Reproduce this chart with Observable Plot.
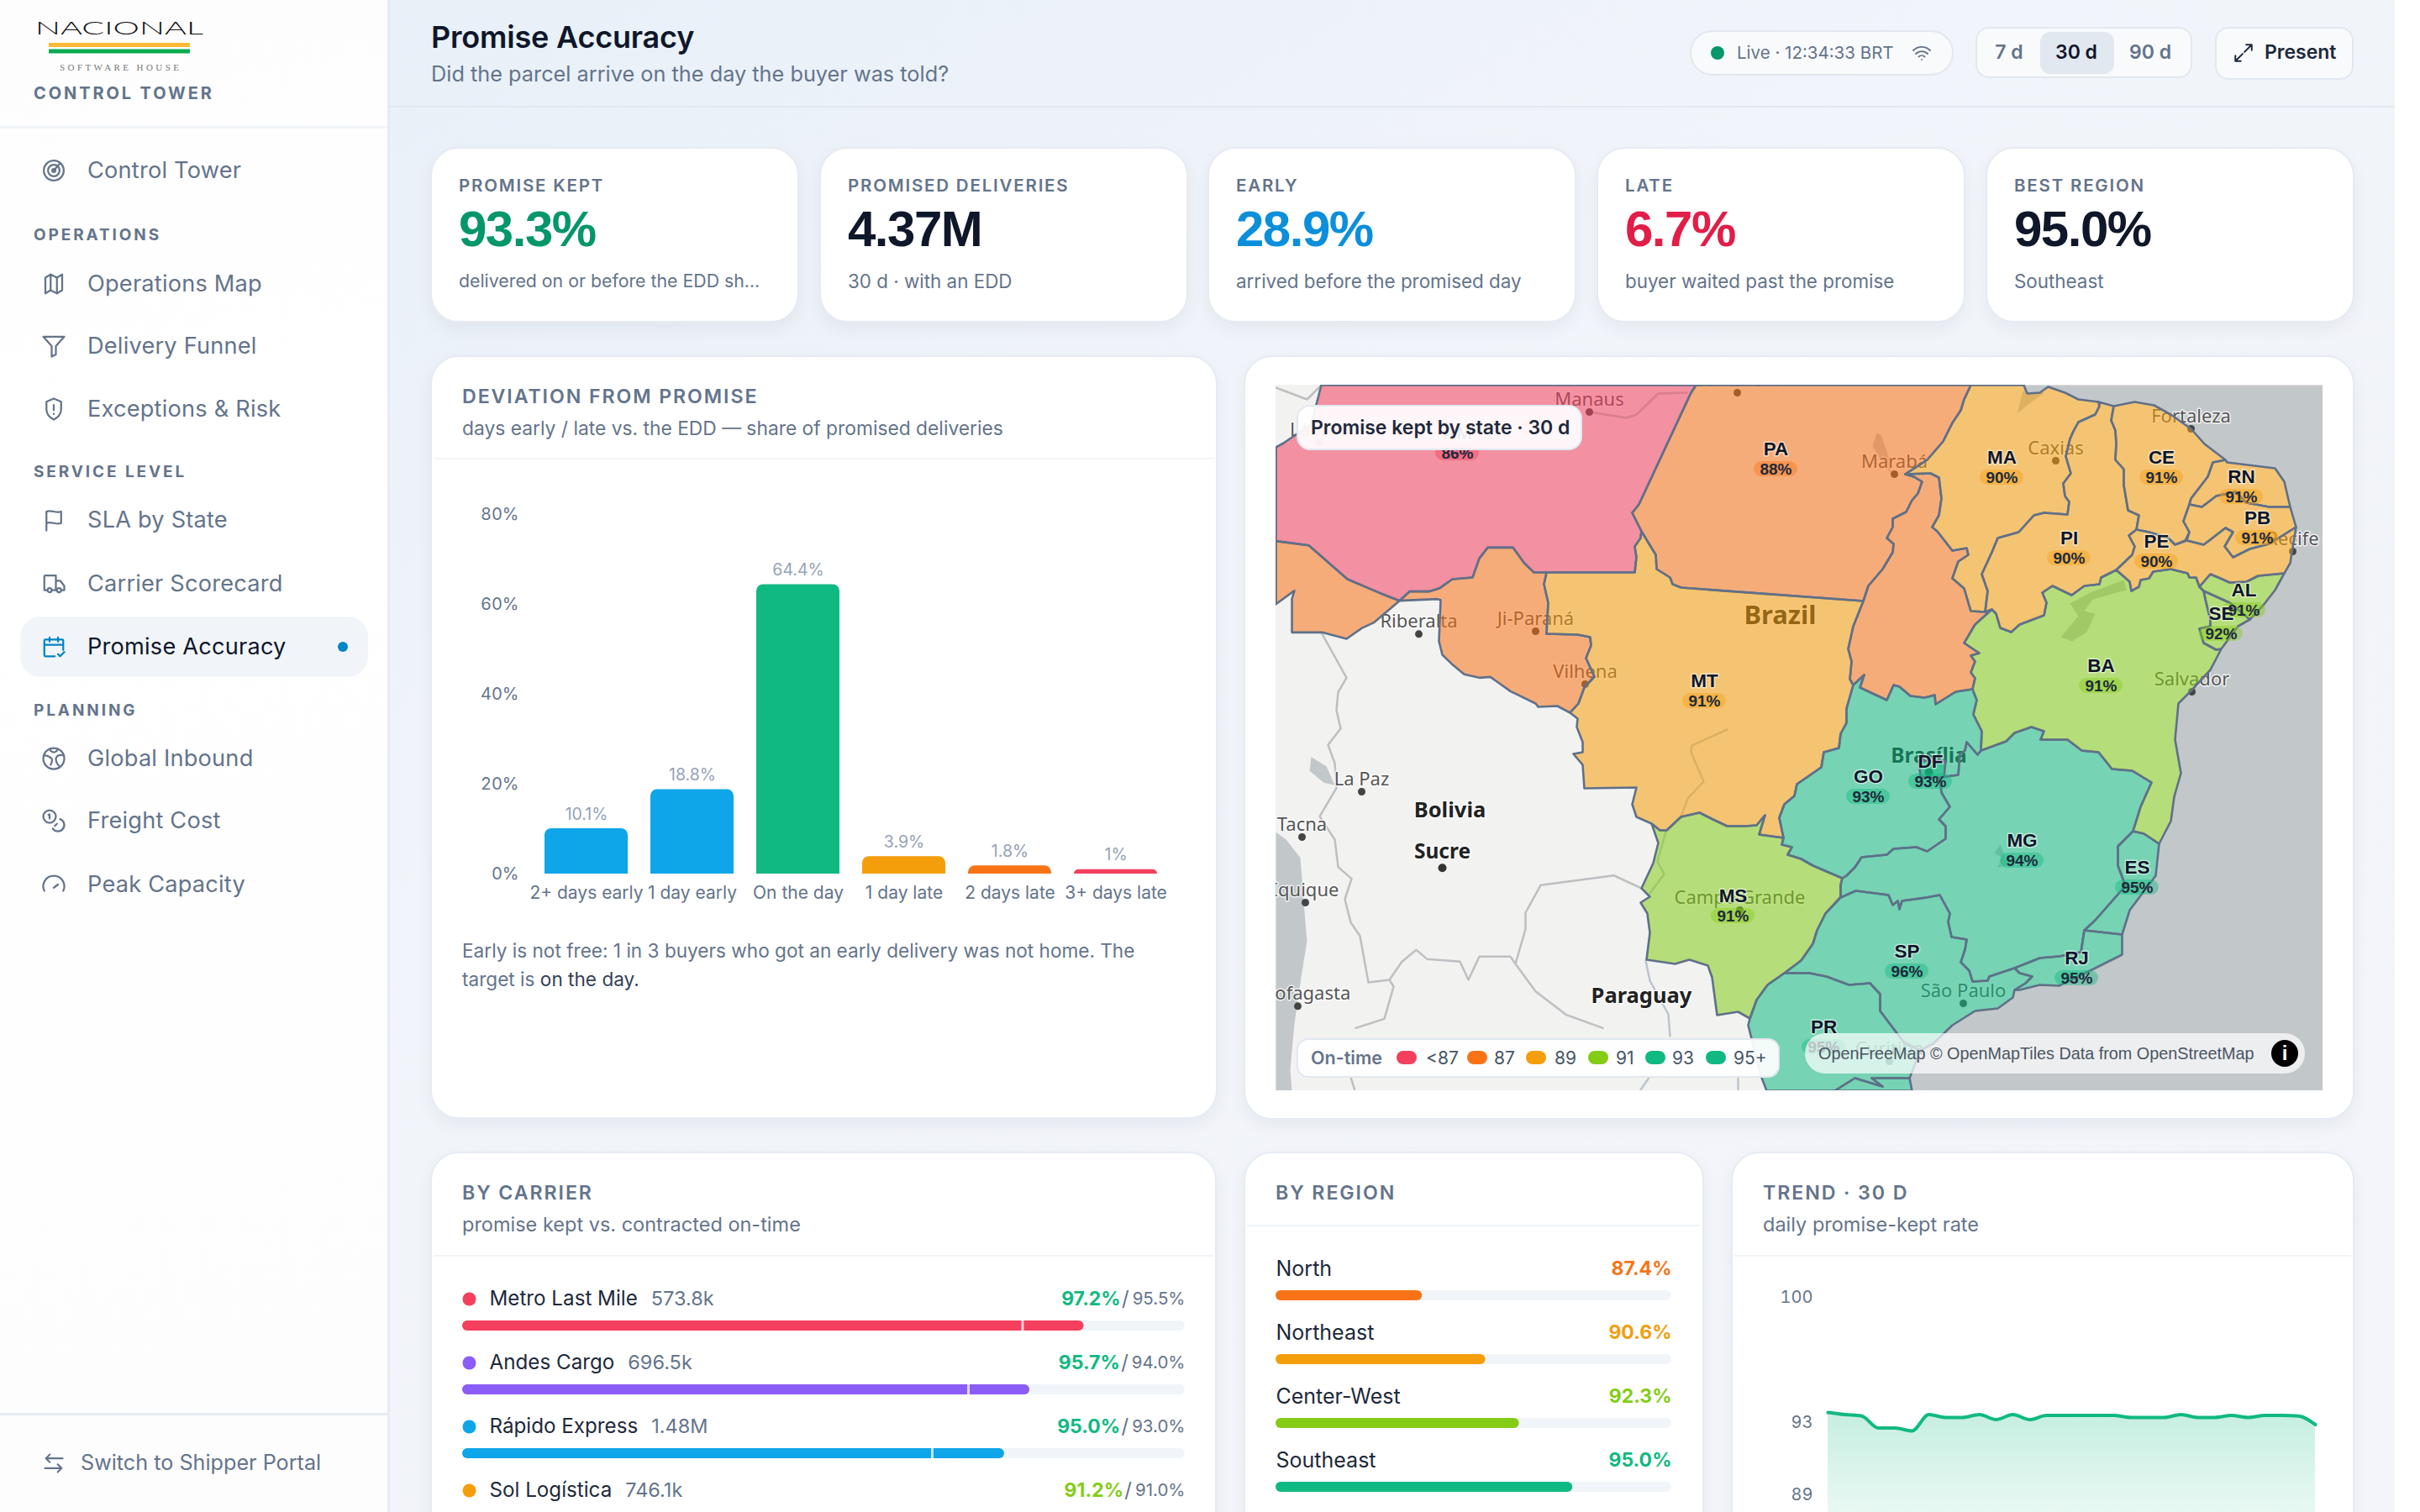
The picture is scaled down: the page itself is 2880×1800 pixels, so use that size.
<!DOCTYPE html>
<html lang="en"><head><meta charset="utf-8"><title>Promise Accuracy</title>
<script src="https://cdn.jsdelivr.net/npm/d3@7"></script>
<script src="https://cdn.jsdelivr.net/npm/@observablehq/plot@0.6"></script>
<style>
*{box-sizing:border-box}
html,body{margin:0;width:2880px;height:1800px;overflow:hidden;background:#fff;font-family:Inter,"Noto Sans",sans-serif;color:#64748b}
.a{position:absolute;white-space:nowrap}
.c{transform:translateY(-50%)}
#main{position:absolute;left:464px;top:0;width:2386px;height:1800px;background:linear-gradient(150deg,#e8f0f8 0,#f1f4fa 35%,#f3f5fb 100%)}
#side{position:absolute;left:0;top:0;width:464px;height:1800px;background:linear-gradient(170deg,#fdfdfe,#fff 30%,#fdfdfe);border-right:3px solid #e6ebf3}
.card{position:absolute;background:#fff;border:2px solid #e6ebf3;border-radius:34px;box-shadow:0 8px 20px rgba(15,23,42,.05)}
.ttl{font-weight:600;font-size:23.2px;letter-spacing:1.9px}
.sub{font-size:23.5px}
.nav{font-size:27.2px;font-weight:400;letter-spacing:.2px}
.sec{font-size:19px;font-weight:700;letter-spacing:2.9px}
svg.ic{position:absolute;fill:none;stroke:#64748b;stroke-width:1.8;stroke-linecap:round;stroke-linejoin:round}
.plot svg{display:block;max-width:none}
</style></head><body>
<div id="side"></div><div id="main"></div><div id="ui"></div>
<script>
// ---------- chart data ----------
const deviationBuckets=["2+ days early","1 day early","On the day","1 day late","2 days late","3+ days late"];
const deviationShare=[10.1,18.8,64.4,3.9,1.8,1];
const deviationColors=["#0ea5e9","#0ea5e9","#10b981","#f59e0b","#f97316","#f43f5e"];
const percentTicks=[0,20,40,60,80];

const carrierNames=["Metro Last Mile","Andes Cargo","Rápido Express","Sol Logística"];
const carrierVolume=["573.8k","696.5k","1.48M","746.1k"];
const carrierKept=[97.2,95.7,95.0,91.2];
const carrierContract=[95.5,94.0,93.0,91.0];
const carrierColors=["#f43f5e","#8b5cf6","#0ea5e9","#f59e0b"];
const carrierRateColors=["#10b981","#10b981","#10b981","#84cc16"];

const regionNames=["North","Northeast","Center-West","Southeast"];
const regionKept=[87.4,90.6,92.3,95.0];
const regionColors=["#f97316","#f59e0b","#84cc16","#10b981"];

const trendDays=[1,2,3,4,5,6,7,8,9,10,11,12,13,14,15,16,17,18,19,20,21,22,23,24,25,26,27,28,29,30];
const trendKept=[93.58,93.46,93.38,92.71,92.71,92.55,93.46,93.30,93.30,93.46,93.18,93.46,93.18,93.41,93.41,93.41,93.41,93.41,93.30,93.30,93.30,93.46,93.30,93.30,93.41,93.30,93.41,93.41,93.38,92.90];
const trendTicks=[89,93,100];

const bandNames=["<87","87","89","91","93","95+"];
const bandColors=["#f43f5e","#f97316","#f59e0b","#84cc16","#10b981","#10b981"];

// ---------- map data: [longitude, Mercator latitude] ----------
const ringAM=[[-69.60,-2.16],[-69.96,-3.55],[-70.95,-4.23],[-71.22,-4.38],[-71.22,-7.73],[-70.05,-7.88],[-68.67,-9.09],[-67.50,-9.59],[-66.81,-9.86],[-66.45,-9.53],[-65.76,-9.53],[-65.37,-9.41],[-64.92,-9.09],[-64.20,-9.03],[-63.96,-8.35],[-63.66,-7.96],[-62.76,-7.96],[-62.37,-8.50],[-62.01,-8.85],[-61.56,-8.85],[-58.41,-8.85],[-58.35,-8.31],[-58.41,-7.92],[-58.20,-7.62],[-58.17,-7.38],[-58.50,-6.72],[-58.26,-6.42],[-56.40,-2.43],[-56.22,-2.16]];
const ringAC=[[-71.22,-7.73],[-70.05,-7.88],[-68.67,-9.09],[-67.50,-9.59],[-66.81,-9.86],[-67.71,-10.63],[-68.16,-10.84],[-68.70,-11.22],[-69.57,-10.99],[-70.65,-10.99],[-70.65,-9.80],[-70.56,-9.50],[-71.22,-9.98]];
const ringRO=[[-61.56,-8.85],[-62.01,-8.85],[-62.37,-8.50],[-62.76,-7.96],[-63.66,-7.96],[-63.96,-8.35],[-64.20,-9.03],[-64.92,-9.09],[-65.37,-9.41],[-65.76,-9.53],[-66.45,-9.53],[-66.81,-9.86],[-65.46,-9.80],[-65.34,-9.83],[-65.40,-11.31],[-65.28,-11.79],[-64.95,-12.11],[-64.50,-12.49],[-63.96,-12.61],[-63.57,-12.58],[-62.85,-13.09],[-61.95,-13.53],[-61.86,-13.65],[-61.17,-13.62],[-60.72,-13.86],[-60.42,-13.53],[-60.21,-12.96],[-59.85,-12.57],[-60.15,-11.91],[-59.97,-11.46],[-60.00,-11.16],[-60.45,-11.07],[-61.56,-11.04],[-61.50,-9.93],[-61.65,-9.27]];
const ringPA=[[-56.22,-2.16],[-46.41,-2.16],[-46.65,-2.67],[-46.77,-3.06],[-47.07,-3.51],[-47.40,-4.17],[-47.97,-4.83],[-48.75,-5.34],[-48.45,-5.43],[-48.15,-5.61],[-48.30,-6.03],[-48.51,-6.27],[-48.72,-6.69],[-49.20,-6.93],[-49.20,-7.23],[-49.41,-7.62],[-49.17,-7.83],[-49.20,-8.13],[-49.56,-8.73],[-50.07,-9.33],[-50.25,-9.87],[-56.76,-9.39],[-57.06,-9.27],[-57.15,-9.03],[-57.63,-8.73],[-57.66,-8.22],[-57.90,-7.83],[-58.17,-7.38],[-58.50,-6.72],[-58.26,-6.42],[-56.40,-2.43]];
const ringTO=[[-48.75,-5.34],[-47.85,-5.31],[-47.55,-5.46],[-47.46,-6.21],[-47.55,-6.81],[-47.79,-7.23],[-47.61,-7.38],[-47.07,-8.07],[-46.56,-7.98],[-46.50,-8.22],[-46.86,-8.46],[-47.07,-9.06],[-46.65,-9.42],[-46.50,-9.93],[-46.41,-10.23],[-45.90,-10.26],[-45.66,-10.17],[-46.26,-10.71],[-46.65,-11.37],[-46.11,-11.73],[-46.41,-11.82],[-46.26,-12.03],[-46.41,-12.42],[-46.26,-12.63],[-46.35,-13.02],[-46.95,-13.11],[-47.67,-13.56],[-47.70,-13.23],[-48.06,-13.32],[-48.57,-13.26],[-48.96,-12.93],[-49.17,-12.87],[-49.41,-13.41],[-50.37,-12.96],[-50.22,-12.51],[-50.61,-12.87],[-50.73,-12.66],[-50.67,-12.03],[-50.79,-11.58],[-50.61,-10.77],[-50.25,-9.87],[-50.07,-9.33],[-49.56,-8.73],[-49.20,-8.13],[-49.17,-7.83],[-49.41,-7.62],[-49.20,-7.23],[-49.20,-6.93],[-48.72,-6.69],[-48.51,-6.27],[-48.30,-6.03],[-48.15,-5.61],[-48.45,-5.43]];
const ringMT=[[-61.56,-8.85],[-58.41,-8.85],[-58.35,-8.31],[-58.41,-7.92],[-58.20,-7.62],[-58.17,-7.38],[-57.90,-7.83],[-57.66,-8.22],[-57.63,-8.73],[-57.15,-9.03],[-57.06,-9.27],[-56.76,-9.39],[-50.25,-9.87],[-50.61,-10.77],[-50.79,-11.58],[-50.67,-12.03],[-50.73,-12.66],[-50.61,-12.87],[-50.85,-13.71],[-50.85,-14.22],[-51.06,-14.61],[-51.12,-15.12],[-51.66,-15.27],[-51.75,-15.81],[-52.62,-16.41],[-52.71,-16.83],[-53.07,-17.13],[-53.25,-17.61],[-53.10,-18.33],[-53.97,-18.21],[-53.76,-17.52],[-54.06,-17.88],[-54.45,-17.91],[-55.11,-17.91],[-55.62,-17.67],[-56.10,-17.43],[-56.76,-17.58],[-57.27,-18.06],[-57.51,-18.06],[-57.81,-17.82],[-58.35,-17.58],[-58.50,-17.13],[-58.35,-16.53],[-60.21,-16.56],[-60.27,-15.72],[-60.60,-15.33],[-60.27,-15.27],[-60.27,-14.91],[-60.48,-14.37],[-60.45,-14.07],[-60.72,-13.86],[-60.42,-13.53],[-60.21,-12.96],[-59.85,-12.57],[-60.15,-11.91],[-59.97,-11.46],[-60.00,-11.16],[-60.45,-11.07],[-61.56,-11.04],[-61.50,-9.93],[-61.65,-9.27]];
const ringMS=[[-57.81,-17.82],[-57.57,-18.51],[-57.75,-19.23],[-58.17,-20.13],[-57.87,-20.43],[-58.20,-20.64],[-57.96,-21.03],[-57.87,-21.72],[-57.99,-22.68],[-56.97,-22.83],[-56.46,-22.68],[-55.80,-22.89],[-55.65,-23.31],[-55.47,-24.66],[-54.72,-24.54],[-54.30,-24.78],[-54.06,-24.12],[-53.67,-23.58],[-53.07,-23.16],[-52.47,-22.71],[-52.05,-22.11],[-51.90,-21.63],[-51.60,-21.03],[-51.06,-20.43],[-51.06,-20.01],[-51.00,-19.77],[-52.05,-19.32],[-52.47,-19.08],[-52.95,-18.93],[-52.80,-18.66],[-53.16,-18.57],[-53.10,-18.33],[-53.97,-18.21],[-53.76,-17.52],[-54.06,-17.88],[-54.45,-17.91],[-55.11,-17.91],[-55.62,-17.67],[-56.10,-17.43],[-56.76,-17.58],[-57.27,-18.06],[-57.51,-18.06]];
const ringGO=[[-50.22,-12.51],[-50.37,-12.96],[-49.41,-13.41],[-49.17,-12.87],[-48.96,-12.93],[-48.57,-13.26],[-48.06,-13.32],[-47.70,-13.23],[-47.67,-13.56],[-46.95,-13.11],[-46.35,-13.02],[-46.20,-13.41],[-46.32,-13.92],[-46.02,-14.52],[-46.05,-15.21],[-46.17,-15.36],[-46.56,-14.91],[-46.62,-15.21],[-46.80,-15.33],[-46.86,-16.08],[-47.52,-16.17],[-47.46,-16.71],[-47.16,-17.22],[-47.55,-17.67],[-47.31,-17.91],[-47.31,-18.36],[-47.97,-18.81],[-48.36,-18.66],[-49.17,-18.72],[-49.41,-18.93],[-50.31,-19.02],[-50.55,-19.38],[-50.85,-19.68],[-51.00,-19.77],[-52.05,-19.32],[-52.47,-19.08],[-52.95,-18.93],[-52.80,-18.66],[-53.16,-18.57],[-53.10,-18.33],[-53.25,-17.61],[-53.07,-17.13],[-52.71,-16.83],[-52.62,-16.41],[-51.75,-15.81],[-51.66,-15.27],[-51.12,-15.12],[-51.06,-14.61],[-50.85,-14.22],[-50.85,-13.71],[-50.61,-12.87]];
const ringDF=[[-48.27,-15.57],[-47.31,-15.57],[-47.37,-16.17],[-48.21,-16.17]];
const ringMG=[[-51.00,-19.77],[-50.85,-19.68],[-50.55,-19.38],[-50.31,-19.02],[-49.41,-18.93],[-49.17,-18.72],[-48.36,-18.66],[-47.97,-18.81],[-47.31,-18.36],[-47.31,-17.91],[-47.55,-17.67],[-47.16,-17.22],[-47.46,-16.71],[-47.52,-16.17],[-46.86,-16.08],[-46.80,-15.33],[-46.62,-15.21],[-46.56,-14.91],[-46.17,-15.36],[-46.05,-15.21],[-45.15,-14.88],[-44.85,-14.58],[-44.25,-14.37],[-43.80,-14.52],[-43.92,-14.82],[-42.96,-14.82],[-42.45,-15.21],[-41.85,-15.27],[-41.37,-15.87],[-40.65,-15.93],[-39.96,-16.35],[-40.35,-17.22],[-40.62,-18.09],[-41.16,-18.63],[-41.16,-19.32],[-40.89,-20.04],[-41.97,-21.27],[-42.36,-21.63],[-42.48,-22.41],[-43.26,-22.56],[-43.95,-22.62],[-44.85,-22.98],[-45.75,-23.28],[-45.81,-23.43],[-46.35,-23.46],[-46.47,-23.07],[-46.77,-22.77],[-46.62,-22.32],[-46.56,-21.96],[-47.10,-21.87],[-47.22,-21.33],[-47.16,-21.03],[-47.52,-20.37],[-48.00,-20.46],[-48.87,-20.58],[-48.96,-20.88],[-49.02,-20.58],[-49.20,-20.73],[-49.35,-20.37],[-50.52,-20.22],[-51.06,-20.46],[-51.06,-20.01]];
const ringES=[[-40.62,-18.09],[-40.23,-18.18],[-39.69,-18.54],[-39.81,-19.68],[-40.74,-20.91],[-41.01,-21.78],[-42.36,-21.63],[-41.97,-21.27],[-40.89,-20.04],[-41.16,-19.32],[-41.16,-18.63]];
const ringRJ=[[-42.36,-21.63],[-41.01,-21.78],[-41.01,-22.50],[-42.09,-23.04],[-43.26,-23.61],[-43.95,-23.58],[-44.67,-23.76],[-44.85,-23.76],[-44.46,-23.52],[-44.22,-23.28],[-44.67,-23.16],[-44.85,-22.98],[-43.95,-22.62],[-43.26,-22.56],[-42.48,-22.41]];
const ringSP=[[-51.06,-20.46],[-50.52,-20.22],[-49.35,-20.37],[-49.20,-20.73],[-49.02,-20.58],[-48.96,-20.88],[-48.87,-20.58],[-48.00,-20.46],[-47.52,-20.37],[-47.16,-21.03],[-47.22,-21.33],[-47.10,-21.87],[-46.56,-21.96],[-46.62,-22.32],[-46.77,-22.77],[-46.47,-23.07],[-46.35,-23.46],[-45.81,-23.43],[-45.75,-23.28],[-44.85,-22.98],[-44.67,-23.16],[-44.22,-23.28],[-44.46,-23.52],[-44.85,-23.76],[-44.91,-24.03],[-45.45,-24.42],[-46.26,-24.51],[-47.07,-25.02],[-47.76,-25.68],[-48.21,-25.92],[-48.81,-25.62],[-49.20,-25.11],[-49.65,-24.51],[-49.65,-23.91],[-50.01,-23.52],[-50.76,-23.58],[-51.57,-23.28],[-52.17,-23.16],[-53.07,-23.16],[-52.47,-22.71],[-52.05,-22.11],[-51.90,-21.63],[-51.60,-21.03]];
const ringPR=[[-54.30,-24.78],[-54.06,-24.12],[-53.67,-23.58],[-53.07,-23.16],[-52.17,-23.16],[-51.57,-23.28],[-50.76,-23.58],[-50.01,-23.52],[-49.65,-23.91],[-49.65,-24.51],[-49.20,-25.11],[-48.81,-25.62],[-48.21,-25.92],[-48.60,-26.91],[-49.95,-26.91],[-49.56,-27.21],[-50.55,-26.91],[-51.27,-27.36],[-53.70,-27.36],[-53.91,-26.82],[-54.36,-25.02]];
const ringSC=[[-51.27,-27.36],[-50.55,-26.91],[-49.56,-27.21],[-49.95,-26.91],[-48.60,-26.91],[-48.51,-27.36]];
const ringBA=[[-46.05,-15.21],[-45.15,-14.88],[-44.85,-14.58],[-44.25,-14.37],[-43.80,-14.52],[-43.92,-14.82],[-42.96,-14.82],[-42.45,-15.21],[-41.85,-15.27],[-41.37,-15.87],[-40.65,-15.93],[-39.96,-16.35],[-40.35,-17.22],[-40.62,-18.09],[-40.23,-18.18],[-39.69,-18.54],[-39.27,-17.73],[-39.15,-16.86],[-38.91,-16.02],[-39.12,-14.82],[-39.00,-13.53],[-38.55,-13.08],[-37.86,-12.33],[-37.47,-11.58],[-37.65,-11.61],[-38.10,-11.37],[-38.25,-10.86],[-37.86,-10.77],[-37.86,-10.53],[-38.01,-9.93],[-38.10,-9.51],[-38.25,-9.36],[-38.37,-9.03],[-38.61,-9.03],[-38.67,-8.88],[-39.27,-8.73],[-39.90,-8.82],[-40.05,-9.06],[-40.35,-9.12],[-40.41,-9.36],[-40.68,-9.51],[-40.74,-9.18],[-41.22,-8.76],[-41.76,-9.03],[-41.82,-9.27],[-42.36,-9.33],[-42.81,-9.66],[-43.50,-9.33],[-43.86,-9.57],[-43.71,-9.93],[-43.80,-10.38],[-44.67,-10.71],[-44.97,-10.98],[-45.36,-10.83],[-45.51,-10.32],[-45.66,-10.17],[-46.26,-10.71],[-46.65,-11.37],[-46.11,-11.73],[-46.41,-11.82],[-46.26,-12.03],[-46.41,-12.42],[-46.26,-12.63],[-46.35,-13.02],[-46.20,-13.41],[-46.32,-13.92],[-46.02,-14.52]];
const ringSE=[[-38.10,-9.51],[-37.17,-9.93],[-36.45,-10.53],[-36.87,-10.77],[-37.47,-11.58],[-37.65,-11.61],[-38.10,-11.37],[-38.25,-10.86],[-37.86,-10.77],[-37.86,-10.53],[-38.01,-9.93]];
const ringAL=[[-38.25,-9.36],[-37.86,-8.91],[-37.50,-9.06],[-37.17,-9.21],[-36.57,-9.18],[-36.15,-8.97],[-35.22,-8.88],[-35.55,-9.48],[-35.97,-10.02],[-36.45,-10.53],[-37.17,-9.93],[-38.10,-9.51]];
const ringMA=[[-46.41,-2.16],[-44.52,-2.16],[-44.40,-2.46],[-43.95,-2.43],[-43.65,-2.22],[-43.05,-2.43],[-42.57,-2.67],[-41.85,-2.76],[-41.82,-2.91],[-41.97,-3.21],[-42.57,-3.48],[-42.75,-3.81],[-42.87,-4.08],[-43.02,-4.71],[-42.84,-5.31],[-43.11,-5.67],[-43.05,-6.12],[-42.90,-6.33],[-42.96,-6.78],[-43.80,-6.72],[-44.16,-6.81],[-44.70,-7.41],[-45.45,-7.62],[-45.66,-8.13],[-46.02,-8.91],[-45.81,-9.51],[-45.90,-10.26],[-46.41,-10.23],[-46.50,-9.93],[-46.65,-9.42],[-47.07,-9.06],[-46.86,-8.46],[-46.50,-8.22],[-46.56,-7.98],[-47.07,-8.07],[-47.61,-7.38],[-47.79,-7.23],[-47.55,-6.81],[-47.46,-6.21],[-47.55,-5.46],[-47.85,-5.31],[-48.75,-5.34],[-47.97,-4.83],[-47.40,-4.17],[-47.07,-3.51],[-46.77,-3.06],[-46.65,-2.67]];
const ringPI=[[-41.85,-2.76],[-41.31,-2.91],[-41.40,-3.42],[-41.25,-3.78],[-41.22,-4.23],[-41.25,-4.83],[-40.95,-5.16],[-40.95,-5.73],[-40.80,-6.63],[-40.41,-6.81],[-40.50,-7.32],[-40.77,-7.53],[-40.56,-7.92],[-40.65,-8.22],[-41.22,-8.76],[-41.76,-9.03],[-41.82,-9.27],[-42.36,-9.33],[-42.81,-9.66],[-43.50,-9.33],[-43.86,-9.57],[-43.71,-9.93],[-43.80,-10.38],[-44.67,-10.71],[-44.97,-10.98],[-45.36,-10.83],[-45.51,-10.32],[-45.66,-10.17],[-45.90,-10.26],[-45.81,-9.51],[-46.02,-8.91],[-45.66,-8.13],[-45.45,-7.62],[-44.70,-7.41],[-44.16,-6.81],[-43.80,-6.72],[-42.96,-6.78],[-42.90,-6.33],[-43.05,-6.12],[-43.11,-5.67],[-42.84,-5.31],[-43.02,-4.71],[-42.87,-4.08],[-42.75,-3.81],[-42.57,-3.48],[-41.97,-3.21],[-41.82,-2.91]];
const ringCE=[[-41.31,-2.91],[-40.56,-2.76],[-39.87,-2.88],[-39.27,-3.21],[-38.55,-3.72],[-38.07,-4.26],[-37.32,-4.83],[-37.77,-4.92],[-37.95,-5.43],[-38.55,-6.21],[-38.61,-6.42],[-38.82,-7.02],[-38.61,-7.41],[-38.76,-7.71],[-39.12,-7.86],[-39.36,-7.62],[-40.05,-7.41],[-40.50,-7.32],[-40.41,-6.81],[-40.80,-6.63],[-40.95,-5.73],[-40.95,-5.16],[-41.25,-4.83],[-41.22,-4.23],[-41.25,-3.78],[-41.40,-3.42]];
const ringRN=[[-37.32,-4.83],[-37.26,-4.92],[-35.55,-5.13],[-35.22,-5.61],[-35.01,-6.51],[-35.76,-6.51],[-36.57,-6.36],[-36.96,-5.97],[-37.65,-6.12],[-38.16,-6.51],[-38.61,-6.42],[-38.55,-6.21],[-37.95,-5.43],[-37.77,-4.92]];
const ringPB=[[-38.61,-6.42],[-38.16,-6.51],[-37.65,-6.12],[-36.96,-5.97],[-36.57,-6.36],[-35.76,-6.51],[-35.01,-6.51],[-34.80,-7.23],[-35.76,-7.83],[-36.45,-8.01],[-37.05,-8.31],[-37.35,-7.92],[-37.05,-7.41],[-37.32,-7.26],[-37.86,-7.68],[-38.10,-7.86],[-38.70,-7.71],[-38.61,-7.41],[-38.82,-7.02]];
const ringPE=[[-40.50,-7.32],[-40.05,-7.41],[-39.36,-7.62],[-39.12,-7.86],[-38.70,-7.71],[-38.10,-7.86],[-37.86,-7.68],[-37.32,-7.26],[-37.05,-7.41],[-37.35,-7.92],[-37.05,-8.31],[-36.45,-8.01],[-35.76,-7.83],[-34.80,-7.23],[-35.01,-8.52],[-35.22,-8.88],[-36.15,-8.97],[-36.57,-9.18],[-37.17,-9.21],[-37.50,-9.06],[-37.86,-8.91],[-38.25,-9.36],[-38.37,-9.03],[-38.61,-9.03],[-38.67,-8.88],[-39.27,-8.73],[-39.90,-8.82],[-40.05,-9.06],[-40.35,-9.12],[-40.41,-9.36],[-40.68,-9.51],[-40.74,-9.18],[-41.22,-8.76],[-40.65,-8.22],[-40.56,-7.92],[-40.77,-7.53]];

const eastOcean=[[-44.52,-2.16],[-44.40,-2.46],[-43.95,-2.43],[-43.65,-2.22],[-43.05,-2.43],[-42.57,-2.67],[-41.85,-2.76],[-41.31,-2.91],[-40.56,-2.76],[-39.87,-2.88],[-39.27,-3.21],[-38.55,-3.72],[-38.07,-4.26],[-37.32,-4.83],[-37.26,-4.92],[-35.55,-5.13],[-35.22,-5.61],[-35.01,-6.51],[-34.80,-7.23],[-35.01,-8.52],[-35.22,-8.88],[-35.55,-9.48],[-35.97,-10.02],[-36.45,-10.53],[-36.87,-10.77],[-37.47,-11.58],[-37.86,-12.33],[-38.55,-13.08],[-39.00,-13.53],[-39.12,-14.82],[-38.91,-16.02],[-39.15,-16.86],[-39.27,-17.73],[-39.69,-18.54],[-39.81,-19.68],[-40.74,-20.91],[-41.01,-21.78],[-41.01,-22.50],[-42.09,-23.04],[-43.26,-23.61],[-43.95,-23.58],[-44.67,-23.76],[-44.85,-23.76],[-44.91,-24.03],[-45.45,-24.42],[-46.26,-24.51],[-47.07,-25.02],[-47.76,-25.68],[-48.21,-25.92],[-48.60,-26.91],[-48.51,-27.36],[-33.84,-27.36],[-33.84,-2.16]];
const westOcean=[[-71.22,-18.12],[-70.86,-18.39],[-70.35,-19.04],[-70.17,-21.35],[-70.11,-22.00],[-70.32,-23.31],[-70.56,-24.97],[-70.71,-26.60],[-70.65,-27.36],[-71.22,-27.36]];
const lakeTiticaca=[[-69.96,-15.44],[-69.42,-15.77],[-69.12,-16.45],[-69.51,-16.36],[-70.02,-15.94]];
const lakeSobradinho=[[-40.95,-9.12],[-40.86,-9.48],[-42.06,-9.81],[-42.36,-10.23],[-41.97,-10.32],[-42.27,-10.98],[-42.81,-11.31],[-43.20,-11.16],[-42.57,-10.41],[-42.87,-9.96],[-42.15,-9.57]];
const lakeTucurui=[[-49.77,-3.87],[-49.62,-3.93],[-49.35,-4.71],[-49.26,-5.31],[-49.62,-4.83],[-49.92,-4.32]];
const bayMaranhao=[[-44.76,-3.18],[-44.55,-2.37],[-43.77,-2.43],[-44.25,-2.76]];
const lakeTresMarias=[[-45.36,-18.57],[-45.21,-18.93],[-45.12,-19.32],[-45.45,-19.38],[-45.30,-19.02],[-45.57,-18.87]];

const borderAndes=[[-69.57,-11.05],[-68.70,-12.61],[-69.00,-13.12],[-69.06,-13.77],[-68.91,-14.42],[-69.36,-15.01],[-69.12,-15.66],[-69.06,-16.55],[-69.66,-17.56],[-69.12,-18.39],[-69.00,-19.37],[-68.52,-19.79],[-68.76,-20.52],[-68.55,-21.35],[-68.22,-21.83],[-67.92,-23.49],[-67.17,-23.40],[-66.72,-22.75],[-66.21,-22.33],[-65.82,-22.66],[-64.65,-22.75],[-64.35,-23.40],[-63.96,-22.57],[-62.85,-22.57],[-62.67,-22.83],[-61.95,-23.81],[-60.87,-24.64],[-59.55,-25.12]];
const borderChaco=[[-67.17,-23.40],[-67.02,-23.64],[-67.35,-24.79],[-68.37,-25.12]];
const borderSouth=[[-68.61,-26.68],[-68.40,-27.36]];
const borderParaguay=[[-62.67,-22.83],[-62.31,-21.59],[-62.31,-21.00],[-61.77,-20.02],[-59.16,-19.67],[-58.17,-20.13]];
const riverParaguay=[[-58.02,-22.71],[-57.87,-23.43],[-57.21,-24.63],[-57.15,-25.41]];
const riverParana=[[-54.72,-26.61],[-54.72,-27.33]];
const riverPilcomayo=[[-57.75,-26.67],[-58.20,-27.33]];
const riverMS=[[-57.30,-18.12],[-57.60,-19.17],[-57.36,-19.62],[-57.87,-20.31]];
const riverMT=[[-55.11,-14.46],[-56.37,-15.03],[-56.40,-15.27],[-55.95,-16.32],[-56.52,-16.92],[-56.76,-17.58]];
const riverAmazon=[[-60.00,-3.12],[-58.71,-3.33],[-58.35,-3.21],[-57.57,-2.46],[-56.55,-2.43]];
const borderNW=[[-71.22,-2.25],[-70.11,-2.67],[-69.60,-2.16]];

const stateCodes=["AM","PA","MA","CE","RN","PB","PI","PE","AL","SE","BA","MT","GO","DF","MS","MG","ES","RJ","SP","PR"];
const stateLon=[-64.74,-53.37,-45.30,-39.60,-36.75,-36.18,-42.90,-39.78,-36.66,-37.47,-41.76,-55.92,-50.07,-47.85,-54.90,-44.58,-40.47,-42.63,-48.69,-51.66];
const stateLat=[-3.87,-4.44,-4.74,-4.74,-5.43,-6.90,-7.62,-7.74,-9.48,-10.32,-12.18,-12.72,-16.14,-15.60,-20.40,-18.42,-19.38,-22.62,-22.38,-25.08];
const statePct=[86,88,90,91,91,91,90,90,91,92,91,91,93,93,91,94,95,95,96,95];
const stateBandOf=["<87","87","89","89","89","89","89","89","91","91","91","89","93","93","91","95+","95+","95+","95+","95+"];

const cityNames=["Lábrea","Manaus","Santarém","Marabá","Caxias","Fortaleza","Recife","Salvador","São Paulo","Curitiba","Campo Grande","Vilhena","Ji-Paraná","Riberalta","La Paz","Tacna","Iquique","Antofagasta"];
const cityLon=[-69.66,-60.03,-54.75,-49.14,-43.38,-38.55,-34.92,-38.52,-46.68,-49.32,-54.66,-60.18,-61.95,-66.12,-68.16,-70.29,-70.17,-70.44];
const cityLat=[-4.20,-3.12,-2.43,-5.34,-4.86,-3.72,-8.10,-13.11,-24.24,-26.31,-20.91,-12.84,-10.95,-11.05,-16.68,-18.30,-20.64,-24.34];
const capitalNames=["Brasília","Sucre"];
const capitalLon=[-47.91,-65.28];
const capitalLat=[-15.99,-19.40];
const countryNames=["Bolivia","Paraguay","Brazil"];
const countryLon=[-65.01,-58.17,-53.22];
const countryLat=[-17.35,-23.99,-10.41];

const stateRings=[["AM","<87",ringAM],["AC","87",ringAC],["RO","87",ringRO],["PA","87",ringPA],["TO","87",ringTO],["MT","89",ringMT],["MS","91",ringMS],["GO","93",ringGO],["DF","93",ringDF],["MG","95+",ringMG],["ES","95+",ringES],["RJ","95+",ringRJ],["SP","95+",ringSP],["PR","95+",ringPR],["SC","95+",ringSC],["BA","91",ringBA],["SE","91",ringSE],["AL","91",ringAL],["MA","89",ringMA],["PI","89",ringPI],["CE","89",ringCE],["RN","89",ringRN],["PB","89",ringPB],["PE","89",ringPE]];

// ---------- page text ----------
const navSections=[["OPERATIONS",279],["SERVICE LEVEL",561],["PLANNING",845]];
const navItems=[["Control Tower",202,"target"],["Operations Map",337,"map"],["Delivery Funnel",411,"funnel"],["Exceptions & Risk",486,"shield"],["SLA by State",618,"flag"],["Carrier Scorecard",694,"truck"],["Promise Accuracy",769,"cal"],["Global Inbound",902,"globe"],["Freight Cost",976,"coins"],["Peak Capacity",1052,"gauge"]];
const kpis=[["PROMISE KEPT","93.3%","#059669","delivered on or before the EDD sh…"],["PROMISED DELIVERIES","4.37M","#0f172a","30 d · with an EDD"],["EARLY","28.9%","#0c8fdb","arrived before the promised day"],["LATE","6.7%","#e11d48","buyer waited past the promise"],["BEST REGION","95.0%","#0f172a","Southeast"]];
const icons={
target:'<circle cx="12" cy="12" r="9.5"/><circle cx="12" cy="12" r="5.5"/><circle cx="12" cy="12" r="1.5"/><path d="M12 12l6-7"/>',
map:'<path d="M4 6l5-3 6 3 5-3v15l-5 3-6-3-5 3z"/><path d="M9 3v15M15 6v15"/>',
funnel:'<path d="M2 3h20l-8 9v8l-4 2V12z"/>',
shield:'<path d="M12 2l7 3v7c0 5-3 8-7 10-4-2-7-5-7-10V5z"/><path d="M12 8v5M12 16.5v.2"/>',
flag:'<path d="M5 22V4c5-2 9 2 14 0v11c-5 2-9-2-14 0"/>',
truck:'<path d="M6 18H3V5a1 1 0 0 1 1-1h10v14M10 18h4M14 9h4l4 5v4h-3"/><circle cx="8" cy="18" r="2"/><circle cx="17" cy="18" r="2"/>',
cal:'<path d="M13 21H4a1 1 0 0 1-1-1V6a1 1 0 0 1 1-1h16a1 1 0 0 1 1 1v9M3 10h18M8 3v4M16 3v4M16 19l2 2 4-4"/>',
globe:'<circle cx="12" cy="12" r="10"/><path d="M3 9c3 0 5 1 7 3 1 2 0 4-1 6M21 9c-4-1-6 0-7 3 0 3 1 5 3 7M8 3c1 2 3 3 4 3s3-1 4-3"/>',
coins:'<circle cx="8" cy="8" r="6"/><path d="M8 6v4M7 6.5L8 6M18 10.5a6 6 0 1 1-7 9M15 15l-2 2"/>',
gauge:'<path d="M3 18a10 10 0 1 1 18 0M12 15l4-3"/>',
swap:'<path d="M8 3L4 7l4 4M4 7h17M16 13l4 4-4 4M20 17H3"/>',
expand:'<path d="M21 3l-8 8M15 3h6v6M3 21l8-8M3 15v6h6"/>',
wifi:'<path d="M2 9a14 14 0 0 1 20 0M5 13a10 10 0 0 1 14 0M8.5 16.5a5 5 0 0 1 7 0M12 20v.2"/>'};

// ---------- helpers ----------
const ui=document.getElementById("ui");
const esc=s=>String(s).replace(/&/g,"&amp;").replace(/</g,"&lt;");
function put(html){ui.insertAdjacentHTML("beforeend",html)}
function txt(s,x,y,css){put(`<div class="a c" style="left:${x}px;top:${y}px;${css||""}">${esc(s)}</div>`)}
function box(x,y,w,h,css){put(`<div class="a" style="left:${x}px;top:${y}px;width:${w}px;height:${h}px;${css||""}"></div>`)}
function icon(n,cx,cy,size,color){put(`<svg class="ic" viewBox="0 0 24 24" width="${size}" height="${size}" style="left:${cx-size/2}px;top:${cy-size/2}px;stroke:${color||"#64748b"}">${icons[n]}</svg>`)}
function card(x,y,w,h){box(x-2,y-2,w+4,h+4,"");ui.lastElementChild.className="card"}
function mount(plot,x,y){const d=document.createElement("div");d.className="a plot";d.style.left=x+"px";d.style.top=y+"px";d.appendChild(plot);ui.appendChild(d)}
const ctx=document.createElement("canvas").getContext("2d");
function measure(s,font){ctx.font=font;return ctx.measureText(s).width}

// ---------- sidebar ----------
put(`<svg class="a" style="left:0;top:0" width="462" height="100" viewBox="0 0 462 100">
<text x="42" y="41" font-family="Lato,'Liberation Sans'" font-weight="300" font-size="21" textLength="200" lengthAdjust="spacingAndGlyphs" fill="#111">NACIONAL</text>
<rect x="58" y="51" width="168" height="5" fill="#f9b934"/><rect x="58" y="58.5" width="168" height="5" fill="#0bab4f"/>
<text x="71" y="84" font-family="'Liberation Serif'" font-size="11" textLength="142" fill="#777">SOFTWARE HOUSE</text></svg>`);
txt("CONTROL TOWER",40,111,"font-size:20px;font-weight:700;letter-spacing:2.9px");
box(0,150,461,3,"background:#f1f4f8");
box(24,734,414,72,"background:#f1f5f9;border-radius:24px");
box(402,764,12,12,"background:#0284c7;border-radius:50%");
navSections.forEach(([s,y])=>{txt(s,40,y);ui.lastElementChild.classList.add("sec")});
navItems.forEach(([s,y,ic])=>{const on=s==="Promise Accuracy";txt(s,104,y,on?"color:#0f172a":"");ui.lastElementChild.classList.add("nav");icon(ic,64,y+1,30,on?"#0284c7":"#64748b")});
box(0,1682,461,3,"background:#e6ebf3");
txt("Switch to Shipper Portal",96,1741,"font-size:25.2px");icon("swap",64,1742,28);

// ---------- header ----------
box(464,126,2386,2,"background:#e2e8f0");
txt("Promise Accuracy",513,44,"font-size:36px;font-weight:600;color:#0f172a;letter-spacing:-.2px");
txt("Did the parcel arrive on the day the buyer was told?",513,87,"font-size:25.3px");
box(2011,36,314,54,"background:#f8fafc;border:2px solid #e2e8f0;border-radius:27px");
box(2036,55,16,16,"background:#059669;border-radius:50%");
txt("Live · 12:34:33 BRT",2067,62,"font-size:20.5px");icon("wifi",2287,63,24);
box(2351,32,258,61,"background:#f8fafc;border:2px solid #e2e8f0;border-radius:16px");
box(2428,38,88,50,"background:#e2e8f0;border-radius:12px");
[["7 d",2391,"#64748b"],["30 d",2471,"#0f172a"],["90 d",2559,"#64748b"]].forEach(([s,x,c])=>{txt(s,x,62,`font-size:23px;font-weight:600;color:${c};transform:translate(-50%,-50%)`)});
box(2636,32,165,63,"background:#f8fafc;border:2px solid #e2e8f0;border-radius:16px");
icon("expand",2670,63,26,"#1e293b");txt("Present",2695,62,"font-size:23px;font-weight:600;color:#1e293b");

// ---------- KPI cards ----------
kpis.forEach(([l,v,c,s],i)=>{const x=[514,977,1439,1902,2365][i];card(x,177,435,205);
 txt(l,x+32,220,"font-size:20.5px;font-weight:600;letter-spacing:1.8px");
 txt(v,x+32,272,`font-family:'Liberation Sans';font-size:60px;font-weight:700;letter-spacing:-1.5px;color:${c}`);
 txt(s,x+32,334,`font-size:${s.length>32?21.3:22.4}px`)});

// ---------- deviation chart ----------
card(514,425,933,905);
txt("DEVIATION FROM PROMISE",550,472);ui.lastElementChild.classList.add("ttl");
txt("days early / late vs. the EDD — share of promised deliveries",550,509,"font-size:22.8px");
box(516,545,929,2,"background:#f1f4f8");
const deviationRows=deviationBuckets.map((bucket,i)=>({bucket,share:deviationShare[i]}));
mount(Plot.plot({width:933,height:540,marginLeft:106,marginRight:41,marginTop:52,marginBottom:60,
 style:{fontFamily:"Inter",background:"transparent",overflow:"visible"},
 x:{domain:deviationBuckets,padding:.2125,label:null},y:{domain:[0,80],label:null},
 color:{domain:deviationBuckets,range:deviationColors},
 marks:[
  Plot.axisY({ticks:percentTicks,tickSize:0,tickPadding:3,tickFormat:d=>d+"%",fontSize:20,fill:"#64748b",label:null}),
  Plot.axisX({tickSize:0,tickPadding:15,fontSize:21,fill:"#64748b",label:null}),
  Plot.barY(deviationRows,{x:"bucket",y:"share",fill:"bucket",rx1y1:8,rx2y1:8}),
  Plot.text(deviationRows,{x:"bucket",y:"share",text:d=>d.share+"%",dy:-17,fontSize:19.5,fill:"#94a3b8"})
 ]}),514,560);
put(`<div class="a" style="left:550px;top:1115px;font-size:22.6px;line-height:34px;width:860px;white-space:normal">Early is not free: 1 in 3 buyers who got an early delivery was not home. The<br>target is <span style="color:#334155">on the day.</span></div>`);

// ---------- map ----------
card(1482,425,1318,906);
const flat=(name,ring,extra)=>ring.map(([lon,lat])=>({name,lon,lat,...extra}));
const stateRows=stateRings.flatMap(([code,band,ring])=>flat(code,ring,{band}));
const waterRows=[["e",eastOcean],["w",westOcean],["t",lakeTiticaca],["s",lakeSobradinho],["u",lakeTucurui],["m",bayMaranhao],["3",lakeTresMarias]].flatMap(([n,r])=>flat(n,r));
const borderRows=[["a",borderAndes],["b",borderChaco],["c",borderSouth],["d",borderParaguay],["n",borderNW]].flatMap(([n,r])=>flat(n,r));
const riverRows=[["p",riverParaguay],["q",riverParana],["r",riverPilcomayo],["s",riverMS],["t",riverMT],["u",riverAmazon]].flatMap(([n,r])=>flat(n,r));
const cityRows=cityNames.map((name,i)=>({name,lon:cityLon[i],lat:cityLat[i]}));
const capitalRows=capitalNames.map((name,i)=>({name,lon:capitalLon[i],lat:capitalLat[i]}));
const countryRows=countryNames.map((name,i)=>({name,lon:countryLon[i],lat:countryLat[i]}));
const labelRows=stateCodes.map((code,i)=>({code,lon:stateLon[i],lat:stateLat[i],pct:statePct[i],band:stateBandOf[i]}));
mount(Plot.plot({width:1246,height:840,margin:0,
 style:{fontFamily:"'Noto Sans'",background:"#f2f2f1",overflow:"hidden"},
 x:{domain:[-71.22,-33.84],axis:null},y:{domain:[-27.36,-2.16],axis:null},
 color:{domain:bandNames,range:bandColors},
 marks:[
  Plot.line(waterRows,{x:"lon",y:"lat",z:"name",curve:"linear-closed",fill:"#c2c7ca",stroke:"none"}),
  Plot.line(borderRows,{x:"lon",y:"lat",z:"name",stroke:"#bdbfc0",strokeWidth:2.5}),
  Plot.line(riverRows,{x:"lon",y:"lat",z:"name",stroke:"#bcc5cc",strokeWidth:2.5}),
  Plot.dot(cityRows,{x:"lon",y:"lat",r:4.5,fill:"#444"}),
  Plot.dot(capitalRows,{x:"lon",y:"lat",r:5,fill:"#333"}),
  Plot.text(cityRows,{x:"lon",y:"lat",text:"name",dy:-15,fontSize:22,fill:"#555",stroke:"#fff",strokeOpacity:.75,strokeWidth:3}),
  Plot.text(capitalRows,{x:"lon",y:"lat",text:"name",dy:-19,fontSize:24.5,fontWeight:700,fill:"#222",stroke:"#fff",strokeOpacity:.75,strokeWidth:3}),
  Plot.text(countryRows,{x:"lon",y:"lat",text:"name",fontSize:d=>d.name==="Brazil"?31:25.5,fontWeight:700,fill:"#222",stroke:"#fff",strokeOpacity:.75,strokeWidth:3}),
  Plot.line(stateRows,{x:"lon",y:"lat",z:"name",curve:"linear-closed",fill:"band",fillOpacity:.55,stroke:"#5f7089",strokeWidth:2.6,strokeLinejoin:"round"}),
  Plot.rect(labelRows,{x1:d=>d.lon-.78,x2:d=>d.lon+.78,y1:d=>d.lat-.27-.72,y2:d=>d.lat+.27-.72,rx:9,fill:"band",fillOpacity:.42}),
  Plot.text(labelRows,{x:"lon",y:"lat",text:"code",fontFamily:"'Liberation Sans'",fontWeight:700,fontSize:22.5,fill:"#0f172a",stroke:"#fff",strokeOpacity:.55,strokeWidth:3}),
  Plot.text(labelRows,{x:"lon",y:"lat",text:d=>d.pct+"%",dy:24,fontFamily:"'Liberation Sans'",fontWeight:700,fontSize:19,fill:"#1e293b"})
 ]}),1518,458);
box(1543,482,340,54,"background:rgba(255,255,255,.92);border:2px solid #e2e8f0;border-radius:16px");
txt("Promise kept by state · 30 d",1560,509,"font-size:23px;font-weight:600;color:#1e293b");
box(1543,1236,575,47,"background:rgba(255,255,255,.92);border:2px solid #e2e8f0;border-radius:14px");
txt("On-time",1560,1259,"font-size:21.5px;font-weight:600;color:#64748b");
bandNames.forEach((b,i)=>{const sx=[1662,1746,1816,1890,1958,2030][i],tx=[1697,1778,1850,1923,1990,2063][i];
 box(sx,1251,24,16,`background:${bandColors[i]};border-radius:8px`);txt(b,tx,1259,"font-size:21px;color:#475569")});
box(2148,1230,595,48,"background:rgba(255,255,255,.7);border-radius:24px");
txt("OpenFreeMap © OpenMapTiles Data from OpenStreetMap",2164,1254,"font-family:'Liberation Sans';font-size:19.8px;color:#4b5563");
box(2703,1238,32,32,"background:#000;border-radius:50%");
txt("i",2719,1254,"font-family:'Liberation Sans';font-weight:700;font-size:24px;color:#fff;transform:translate(-50%,-50%)");

// ---------- carrier panel ----------
card(514,1373,932,600);
txt("BY CARRIER",550,1420);ui.lastElementChild.classList.add("ttl");
txt("promise kept vs. contracted on-time",550,1457,"");ui.lastElementChild.classList.add("sub");
box(516,1494,928,2,"background:#f1f4f8");
const carrierRows=carrierNames.map((carrier,i)=>({carrier,volume:carrierVolume[i],kept:carrierKept[i],contract:carrierContract[i],rate:carrierRateColors[i]}));
const nameFont="24.2px Inter",contractFont="20.5px Inter";
const band=80;
mount(Plot.plot({width:932,height:316,marginLeft:36,marginRight:36,marginTop:12,marginBottom:0,
 style:{fontFamily:"Inter",background:"transparent",overflow:"visible"},
 x:{domain:[band,100],axis:null},y:{domain:carrierNames,padding:0,axis:null},
 color:{domain:carrierNames,range:carrierColors},
 marks:[
  Plot.barX(carrierRows,{x1:()=>band,x2:()=>100,y:"carrier",insetTop:64,rx:6,fill:"#f1f5f9"}),
  Plot.barX(carrierRows,{x1:()=>band,x2:"kept",y:"carrier",insetTop:64,rx:6,fill:"carrier"}),
  Plot.tickX(carrierRows,{x:"contract",y:"carrier",insetTop:64,stroke:"#fff",strokeOpacity:.75,strokeWidth:3}),
  Plot.dot(carrierRows,{x:()=>band,y:"carrier",dx:8,r:8,fill:"carrier"}),
  Plot.text(carrierRows,{frameAnchor:"left",y:"carrier",text:"carrier",textAnchor:"start",dx:32,fontSize:24.2,fill:"#1e293b"}),
  ...carrierRows.map(r=>Plot.text([r],{frameAnchor:"left",y:"carrier",text:"volume",textAnchor:"start",dx:32+measure(r.carrier,nameFont)+16,fontSize:23.5,fill:"#64748b"})),
  Plot.text(carrierRows,{frameAnchor:"right",y:"carrier",text:d=>d.contract.toFixed(1)+"%",textAnchor:"end",fontSize:20.5,fill:"#64748b"}),
  ...carrierRows.map(r=>Plot.text([r],{frameAnchor:"right",y:"carrier",text:()=>"/",textAnchor:"end",dx:-measure(r.contract.toFixed(1)+"%",contractFont)-4,fontSize:24,fill:"#64748b"})),
  ...carrierRows.map(r=>Plot.text([r],{frameAnchor:"right",y:"carrier",text:d=>d.kept.toFixed(1)+"%",textAnchor:"end",dx:-measure(r.contract.toFixed(1)+"%",contractFont)-14,fontSize:23,fontWeight:700,fill:r.rate}))
 ]}),514,1496);

// ---------- region panel ----------
card(1482,1373,544,600);
txt("BY REGION",1518,1420);ui.lastElementChild.classList.add("ttl");
box(1484,1458,540,2,"background:#f1f4f8");
const regionRows=regionNames.map((region,i)=>({region,kept:regionKept[i],rate:regionColors[i]}));
mount(Plot.plot({width:544,height:316,marginLeft:36,marginRight:37,marginTop:12,marginBottom:0,
 style:{fontFamily:"Inter",background:"transparent",overflow:"visible"},
 x:{domain:[band,100],axis:null},y:{domain:regionNames,padding:0,axis:null},
 color:{domain:regionNames,range:regionColors},
 marks:[
  Plot.barX(regionRows,{x1:()=>band,x2:()=>100,y:"region",insetTop:64,rx:6,fill:"#f1f5f9"}),
  Plot.barX(regionRows,{x1:()=>band,x2:"kept",y:"region",insetTop:64,rx:6,fill:"region"}),
  Plot.text(regionRows,{frameAnchor:"left",y:"region",text:"region",textAnchor:"start",fontSize:25,fill:"#1e293b"}),
  ...regionRows.map(r=>Plot.text([r],{frameAnchor:"right",y:"region",text:d=>d.kept.toFixed(1)+"%",textAnchor:"end",fontSize:23,fontWeight:700,fill:r.rate}))
 ]}),1482,1460);

// ---------- trend panel ----------
card(2062,1373,738,600);
txt("TREND · 30 D",2098,1420);ui.lastElementChild.classList.add("ttl");
txt("daily promise-kept rate",2098,1457,"");ui.lastElementChild.classList.add("sub");
box(2064,1494,734,2,"background:#f1f4f8");
const trendRows=trendDays.map((day,i)=>({day,kept:trendKept[i]}));
mount(Plot.plot({width:738,height:346,marginLeft:113,marginRight:45,marginTop:24,marginBottom:2,
 style:{fontFamily:"Inter",background:"transparent",overflow:"visible"},
 x:{domain:[1,30],axis:null},y:{domain:[85,100],label:null},
 marks:[
  ()=>{const d=d3.create("svg:defs");const g=d.append("linearGradient").attr("id","trendFill").attr("x1",0).attr("x2",0).attr("y1",0).attr("y2",1);
   g.append("stop").attr("offset","0%").attr("stop-color","#10b981").attr("stop-opacity",.24);
   g.append("stop").attr("offset","100%").attr("stop-color","#10b981").attr("stop-opacity",.02);return d.node()},
  Plot.axisY({ticks:trendTicks,tickSize:0,tickPadding:18,fontSize:20,fill:"#64748b",label:null}),
  Plot.areaY(trendRows,{x:"day",y1:()=>85,y2:"kept",curve:"monotone-x",fill:"url(#trendFill)"}),
  Plot.line(trendRows,{x:"day",y:"kept",curve:"monotone-x",stroke:"#10b981",strokeWidth:4})
 ]}),2062,1520);
</script></body></html>
